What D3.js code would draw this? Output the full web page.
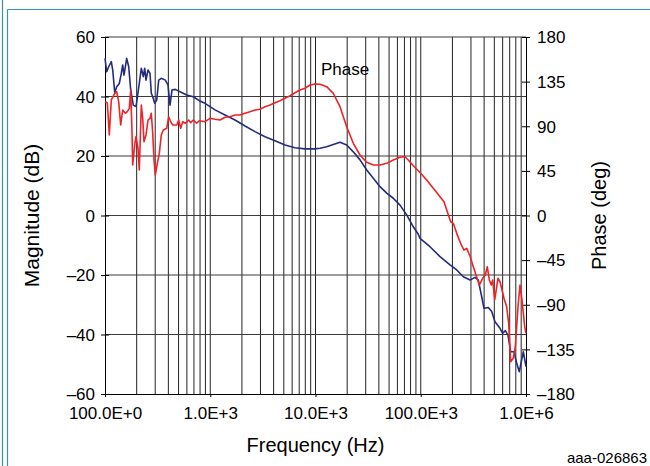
<!DOCTYPE html>
<html>
<head>
<meta charset="utf-8">
<script src="https://cdn.jsdelivr.net/npm/d3@7"></script>
<style>
  body { margin: 0; background: #fff; }
  svg { display: block; font-family: "Liberation Sans", Arial, sans-serif; }
  .axis path, .axis line { stroke: #000; }
  .axis text { font-size: 17px; fill: #000; }
</style>
</head>
<body>
<div id="chart"></div>
<script>
"use strict";

// magnitude curve (left axis, dB)
const magFreq = [100, 103.8, 108.4, 114.8, 118.4, 123.7, 129.2, 136.8, 142.9, 147.3, 151.5, 160.8, 168, 175.5, 185.8, 197,
  211.8, 221.3, 231.2, 238.4, 245.3, 256.2, 267.7, 275.4, 284, 296.7, 310, 323.8, 342.7, 374.1, 396.8, 414.6, 433.1,
  465.5, 516, 597.4, 690.2, 787, 891.5, 1110, 1381, 1719, 2139, 2662, 3313, 4123, 5131, 6386, 7948, 9890, 11040,
  12780, 14760, 17090, 19790, 22860, 26480, 30650, 35420, 41010, 47480, 54860, 63520, 73540, 84970, 94780, 98370,
  122400, 152400, 189700, 219600, 253800, 293800, 327700, 352300, 379500, 399000, 438400, 472200, 507600, 566200,
  600600, 635900, 674500, 715500, 769100, 815800, 863600, 902300, 942600, 1000000];
const magDb = [52.8, 48.3, 50.0, 51.7, 48.9, 41.3, 43.3, 44.4, 47.8, 50.6, 47.2, 52.8, 50.0, 42.2, 37.1, 36.6,
  44.4, 49.5, 46.7, 49.5, 45.5, 48.9, 47.8, 41.1, 39.9, 37.7, 38.8, 45.5, 46.1, 45.5, 43.9, 37.1, 42.2,
  42.4, 41.6, 40.5, 39.9, 38.6, 37.7, 35.5, 33.8, 32.1, 30.1, 28.2, 26.5, 25.1, 23.7, 22.8, 22.4, 22.4, 22.6,
  23.1, 23.9, 24.6, 23.7, 21.4, 18.7, 15.3, 12.5, 9.7, 7.5, 5.8, 3.5, 0.2, -3.8, -6.3, -7.7,
  -10.5, -13.8, -16.6, -18.3, -20.6, -21.7, -20.8, -21.7, -27.3, -31.2, -30.9, -32.3, -35.7, -37.9,
  -39.6, -38.7, -40.2, -45.8, -45.8, -49.7, -52.5, -49.1, -45.8, -50.8];

// phase curve (right axis, degrees)
const phaseFreq = [100, 105.2, 109.9, 114.8, 123.7, 129.2, 134.9, 141, 147.3, 156, 162.9, 170.2, 175.5, 180.5, 183.3,
  191.5, 197, 205.9, 211.8, 221.3, 228.2, 234.8, 245.3, 256.2, 267.7, 275.4, 284, 292.2, 300.6, 314, 328.1, 342.7,
  358, 385.8, 403, 421, 439.9, 480, 501.5, 524, 547.4, 579.5, 624.2, 652.2, 690.2, 743.5, 787, 891.5, 994.5, 1110,
  1238, 1381, 1540, 1719, 1917, 2139, 2386, 2662, 2970, 3313, 3696, 4123, 4600, 5131, 5725, 6386, 7125, 7948, 8867,
  9890, 11040, 12780, 14760, 17090, 19790, 22860, 26480, 30650, 35420, 41010, 47480, 54860, 63520, 70850, 76140,
  84970, 98370, 113900, 131600, 152400, 166300, 176500, 192600, 203900, 219600, 242800, 257600, 273300, 293800,
  315700, 335000, 359900, 387800, 410600, 428900, 448100, 468100, 482700, 504300, 541900, 566200, 618000, 655300,
  684600, 715500, 757400, 791300, 839500, 877100, 916300, 971900, 1000000];
const phaseDeg = [114.8, 113.7, 81.2, 116.5, 123.2, 124.8, 114.8, 91.3, 106.4, 103.1, 104.7, 108.1, 126.6, 84.5, 50.9,
  71.1, 79.5, 67.8, 45.9, 111.4, 98.0, 74.4, 81.2, 96.3, 98.0, 103.1, 82.9, 56.0, 40.8, 52.6, 62.7, 81.2,
  86.2, 87.9, 99.6, 94.6, 91.3, 91.3, 96.3, 87.9, 94.6, 93.0, 96.3, 93.6, 96.3, 93.0, 95.6, 94.6, 98.0, 97.0,
  96.3, 99.0, 99.6, 101.3, 101.3, 103.1, 104.7, 106.4, 107.1, 109.7, 111.4, 113.7, 115.8, 118.2, 120.8, 123.8, 126.6, 128.3, 131.6,
  132.6, 132.3, 129.9, 123.2, 109.7, 89.5, 72.8, 61.0, 53.6, 50.9, 50.9, 52.6, 56.0, 58.7, 59.3, 56.0,
  50.2, 43.4, 35.8, 27.4, 19.0, 13.9, 5.5, -6.3, -7.9, -18.0, -29.7, -34.8, -33.1, -40.8,
  -51.6, -60.0, -70.1, -63.3, -60.0, -51.6, -65.0, -70.1, -65.0, -85.2, -63.3, -66.8, -83.5, -92.0,
  -108.7, -147.4, -144.0, -132.3, -92.0, -70.1, -85.2, -112.1, -118.8];

const decadeTicks = [100, 1e3, 1e4, 1e5, 1e6];
const decadeLabels = ["100.0E+0", "1.0E+3", "10.0E+3", "100.0E+3", "1.0E+6"];
const magTicks = [-60, -40, -20, 0, 20, 40, 60];
const phaseTicks = [-180, -135, -90, -45, 0, 45, 90, 135, 180];

const msm = { width: 650, height: 466, left: 105, right: 526, top: 37, bottom: 394 };

const svg = d3.select("#chart").append("svg")
  .attr("width", msm.width)
  .attr("height", msm.height);

// outer frame
svg.append("line").attr("x1", 2.5).attr("x2", 2.5).attr("y1", 0).attr("y2", msm.height)
  .attr("stroke", "#3b8fb4").attr("stroke-width", 1.2);
svg.append("line").attr("x1", 7.5).attr("x2", 7.5).attr("y1", 9.5).attr("y2", msm.height)
  .attr("stroke", "#3b8fb4").attr("stroke-width", 1.2);
svg.append("line").attr("x1", 7.5).attr("x2", msm.width).attr("y1", 9.5).attr("y2", 9.5)
  .attr("stroke", "#3b8fb4").attr("stroke-width", 1.2);

const xScale = d3.scaleLog().domain([100, 1e6]).range([msm.left, msm.right]);
const yMag = d3.scaleLinear().domain([-60, 60]).range([msm.bottom, msm.top]);
const yPhase = d3.scaleLinear().domain([-180, 180]).range([msm.bottom, msm.top]);

// vertical grid, every 1..9 in each decade
let gridFreqs = [];
for (let dec = 100; dec < 1e6; dec *= 10) {
  for (let m = 2; m <= 9; m++) gridFreqs.push(dec * m);
}
gridFreqs = gridFreqs.concat(decadeTicks.slice(1, 4));

svg.append("g")
  .selectAll("line")
  .data(gridFreqs)
  .enter()
  .append("line")
  .attr("x1", (d) => xScale(d))
  .attr("x2", (d) => xScale(d))
  .attr("y1", msm.top)
  .attr("y2", msm.bottom)
  .attr("stroke", "#222")
  .attr("stroke-width", 1);

// horizontal grid
svg.append("g")
  .selectAll("line")
  .data(magTicks.slice(1))
  .enter()
  .append("line")
  .attr("x1", msm.left)
  .attr("x2", msm.right)
  .attr("y1", (d) => yMag(d))
  .attr("y2", (d) => yMag(d))
  .attr("stroke", "#3a3a3a")
  .attr("stroke-width", 1.2);

// axes
const fmtMinus = (v) => v < 0 ? "\u2013" + Math.abs(v) : String(v);

const leftAxis = svg.append("g")
  .attr("class", "axis")
  .attr("transform", "translate(" + msm.left + ",0)")
  .call(d3.axisLeft(yMag).tickValues(magTicks).tickFormat(fmtMinus).tickSizeInner(4).tickSizeOuter(0).tickPadding(6));
leftAxis.selectAll(".tick line").attr("x2", 4).attr("x1", -4);
leftAxis.selectAll("text").attr("dy", "0.34em");

const rightAxis = svg.append("g")
  .attr("class", "axis")
  .attr("transform", "translate(" + msm.right + ",0)")
  .call(d3.axisRight(yPhase).tickValues(phaseTicks).tickFormat(fmtMinus).tickSizeInner(4).tickSizeOuter(0).tickPadding(7));
rightAxis.selectAll(".tick line").attr("x1", -4).attr("x2", 4);
rightAxis.selectAll("text").attr("dy", "0.34em");

const bottomAxis = svg.append("g")
  .attr("class", "axis")
  .attr("transform", "translate(0," + msm.bottom + ")")
  .call(d3.axisBottom(xScale).tickValues(decadeTicks)
    .tickFormat((d, i) => decadeLabels[i]).tickSizeInner(3).tickSizeOuter(0).tickPadding(10));

// curves
const magLine = d3.line()
  .x((d, i) => xScale(magFreq[i]))
  .y((d) => yMag(d));
svg.append("path")
  .datum(magDb)
  .attr("fill", "none")
  .attr("stroke", "#232c7e")
  .attr("stroke-width", 1.6)
  .attr("stroke-linejoin", "round")
  .attr("d", magLine);

const phaseLine = d3.line()
  .x((d, i) => xScale(phaseFreq[i]))
  .y((d) => yPhase(d));
svg.append("path")
  .datum(phaseDeg)
  .attr("fill", "none")
  .attr("stroke", "#ee2328")
  .attr("stroke-width", 1.6)
  .attr("stroke-linejoin", "round")
  .attr("d", phaseLine);

// labels
svg.append("text")
  .attr("x", 321)
  .attr("y", 75)
  .style("font-size", "17px")
  .text("Phase");

svg.append("text")
  .attr("transform", "translate(39," + ((msm.top + msm.bottom) / 2) + ") rotate(-90)")
  .attr("text-anchor", "middle")
  .style("font-size", "21px")
  .text("Magnitude (dB)");

svg.append("text")
  .attr("transform", "translate(606," + ((msm.top + msm.bottom) / 2) + ") rotate(-90)")
  .attr("text-anchor", "middle")
  .style("font-size", "20px")
  .text("Phase (deg)");

svg.append("text")
  .attr("x", (msm.left + msm.right) / 2)
  .attr("y", 452)
  .attr("text-anchor", "middle")
  .style("font-size", "20px")
  .text("Frequency (Hz)");

svg.append("text")
  .attr("x", 647)
  .attr("y", 463)
  .attr("text-anchor", "end")
  .style("font-size", "15px")
  .text("aaa-026863");
</script>
</body>
</html>
